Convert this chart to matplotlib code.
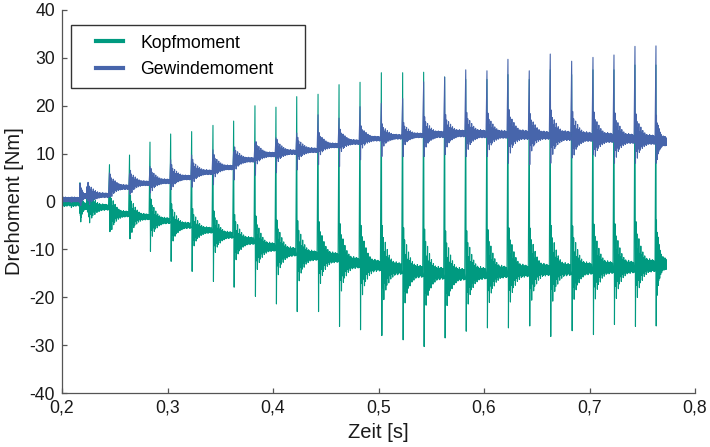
import numpy as np
import matplotlib
matplotlib.use("Agg")
import matplotlib.pyplot as plt
from matplotlib.legend_handler import HandlerLine2D

plt.rcParams['font.family'] = ['Liberation Sans', 'DejaVu Sans']

# ---- measured torque trace, described per screw-in event ----
t_start = 0.2
t_stop = 0.7732

# event times [s]: two small contact bumps, then one spike per thread turn
event_t = [0.2170, 0.2237, 0.2450, 0.2640, 0.2834, 0.3030, 0.3229, 0.3431,
           0.3627, 0.3829, 0.4028, 0.4225, 0.4427, 0.4626, 0.4825, 0.5027,
           0.5229, 0.5428, 0.5627, 0.5827, 0.6028, 0.6227, 0.6429, 0.6628,
           0.6831, 0.7033, 0.7232, 0.7431, 0.7630]

# Kopfmoment [Nm]
kopf_start = -0.2
kopf_peak = [3.9, 2.6, 7.7, 9.7, 12.4, 14.1, 14.6, 15.9, 16.8, 20.0, 19.7,
             21.9, 22.4, 24.4, 24.9, 26.9, 26.9, 27.0, 26.0, 25.5, 25.5, 26.5,
             25.5, 27.5, 26.5, 27.5, 27.5, 28.5, 28.5]
kopf_trough = [-2.5, -2.2, -6.3, -7.8, -10.4, -12.5, -14.6, -16.7, -17.9,
               -19.8, -21.4, -23.0, -23.0, -26.1, -26.8, -28.0, -28.9, -30.3,
               -28.5, -27.1, -26.4, -26.4, -26.0, -28.2, -27.0, -27.8, -25.7,
               -26.1, -26.0]
kopf_level = [-1.0, -1.2, -2.6, -3.2, -4.0, -5.0, -6.0, -7.0, -8.2, -9.5,
              -10.5, -11.3, -11.7, -12.8, -13.4, -14.0, -14.6, -15.0, -15.2,
              -15.0, -14.7, -14.5, -14.3, -14.2, -14.0, -13.8, -13.7, -13.4,
              -13.0]
# ringing after a spike (offsets from level, Nm), full-size event
kopf_ring = [9.0, -4.0, 6.5, -6.5, 3.5, -3.0, 5.5, -4.5, 2.5, -3.5, 4.0, -2.0,
             2.2, -3.0, 2.8, -1.5, 1.6, -2.2, 2.0, -1.2, 1.3, -1.8, 1.5, -1.0,
             1.2, -1.4, 1.0, -1.2, 1.4, -0.9, 1.0, -1.3, 1.1, -1.0, 1.2, -0.9,
             1.0, -1.2, 0.9, -1.1]

# Gewindemoment [Nm]
gew_start = 0.4
gew_peak = [3.5, 3.1, 6.0, 5.8, 7.3, 8.7, 9.7, 10.8, 10.4, 12.2, 13.3, 14.3,
            18.1, 17.4, 19.8, 20.5, 21.5, 25.0, 26.0, 27.5, 27.3, 29.7, 27.3,
            30.8, 29.3, 30.1, 30.6, 32.4, 32.5]
gew_trough = [-0.3, 0.2, 1.0, 1.5, 1.8, 2.5, 3.0, 3.5, 4.5, 5.5, 6.0, 6.6,
              7.7, 7.3, 8.7, 9.4, 9.4, 9.4, 9.8, 9.4, 9.4, 8.0, 7.7, 8.0,
              9.1, 9.8, 8.0, 8.0, 8.0]
gew_level = [1.1, 1.3, 3.0, 3.8, 4.2, 5.0, 6.1, 7.1, 8.7, 9.8, 10.3, 10.7,
             11.7, 12.4, 13.1, 13.5, 13.8, 14.0, 14.2, 14.1, 14.0, 13.9, 13.8,
             13.7, 13.5, 13.3, 13.1, 12.9, 12.6]
gew_ring = [4.5, -2.0, 3.2, -3.2, 2.0, -1.6, 2.8, -2.2, 1.4, -1.8, 2.2, -1.1,
            1.3, -1.5, 1.6, -0.9, 1.0, -1.2, 1.2, -0.8, 0.8, -1.0, 0.9, -0.7,
            0.8, -0.8, 0.7, -0.7, 0.9, -0.6, 0.7, -0.8, 0.7, -0.7, 0.8, -0.6,
            0.7, -0.8, 0.6, -0.7]

x_ticks = [0.2, 0.3, 0.4, 0.5, 0.6, 0.7, 0.8]
x_ticklabels = ["0,2", "0,3", "0,4", "0,5", "0,6", "0,7", "0,8"]
y_ticks = [-40, -30, -20, -10, 0, 10, 20, 30, 40]
y_ticklabels = ["-40", "-30", "-20", "-10", "0", "10", "20", "30", "40"]

col_kopf = "#009A80"
col_gew = "#4765AB"


def build_trace(start_level, levels, peaks, troughs, ring, ref_rise, lo, hi):
    """Assemble a trace: quiet start, then spike + ringing per event."""
    ts, ys = [], []
    quiet = ring[20:] * 2
    step = (event_t[0] - t_start) / len(quiet)
    for j, off in enumerate(quiet):
        ts.append(t_start + j * step)
        ys.append(start_level + 0.6 * off)
    edges = list(event_t) + [t_stop]
    for k in range(len(event_t)):
        t0, t1 = edges[k], edges[k + 1]
        dt = (t1 - t0) / (len(ring) + 3)
        s = min(max((peaks[k] - levels[k]) / ref_rise, lo), hi)
        ts += [t0, t0 + dt]
        ys += [peaks[k], troughs[k]]
        for j, off in enumerate(ring):
            ts.append(t0 + (j + 2) * dt)
            ys.append(levels[k] + s * off)
    return np.array(ts), np.array(ys)


fig = plt.figure(figsize=(7.1, 4.47), dpi=100)
ax = fig.add_axes([62 / 710, 54 / 447, 633 / 710, 383 / 447])

tk, yk = build_trace(kopf_start, kopf_level, kopf_peak, kopf_trough,
                     kopf_ring, 41.0, 0.5, 1.1)
tg, yg = build_trace(gew_start, gew_level, gew_peak, gew_trough,
                     gew_ring, 13.4, 0.6, 1.2)
ax.plot(tk, yk, color=col_kopf, lw=0.8, label="Kopfmoment")
ax.plot(tg, yg, color=col_gew, lw=0.8, label="Gewindemoment")

ax.set_xlim(0.2, 0.8)
ax.set_ylim(-40, 40)
ax.set_xticks(x_ticks)
ax.set_xticklabels(x_ticklabels)
ax.set_yticks(y_ticks)
ax.set_yticklabels(y_ticklabels)

for side in ("top", "right"):
    ax.spines[side].set_visible(False)
for side in ("left", "bottom"):
    ax.spines[side].set_color("#555555")
    ax.spines[side].set_linewidth(0.9)
ax.tick_params(direction="in", length=3.6, width=0.9, color="#555555",
               labelsize=12.7, labelcolor="#1a1a1a", pad=5)

ax.set_xlabel("Zeit [s]", fontsize=14.5, color="#1a1a1a", labelpad=4)
ax.set_ylabel("Drehoment [Nm]", fontsize=14.5, color="#1a1a1a", labelpad=4)

hmap = {line: HandlerLine2D(numpoints=2, marker_pad=0.88)
        for line in ax.get_lines()}
leg = ax.legend(loc="upper left", bbox_to_anchor=(0.0137, 0.961, 0.3705, 0.0),
                mode="expand", borderaxespad=0.0, fontsize=12.7,
                handlelength=3.3, handletextpad=0.09, borderpad=0.55,
                labelspacing=0.55, fancybox=False, framealpha=1.0,
                edgecolor="#333333", handler_map=hmap)
leg.get_frame().set_linewidth(1.0)
for h in leg.get_lines():
    h.set_linewidth(3.0)

fig.savefig("out.png", dpi=100)
